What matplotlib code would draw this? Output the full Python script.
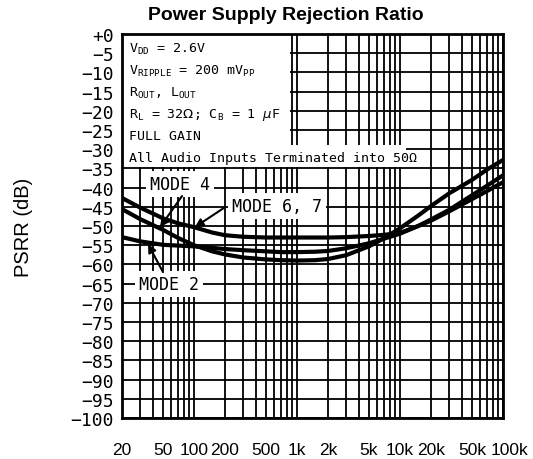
import matplotlib
matplotlib.use("Agg")
import matplotlib.pyplot as plt
from matplotlib.patches import Rectangle

# frequency (Hz) and PSRR (dB)
freqs = [20, 30, 50, 70, 100, 150, 200, 300, 500, 700, 1000, 1500, 2000, 3000,
         5000, 7000, 10000, 15000, 20000, 30000, 50000, 70000, 100000]
mode_67 = [-42.7, -45.2, -48.0, -49.3, -50.3, -51.7, -52.4, -52.8, -53.0, -53.0, -53.0,
           -53.0, -53.0, -52.9, -52.6, -52.3, -51.8, -50.0, -48.3, -45.8, -42.0, -39.5, -36.8]
mode_4 = [-45.6, -48.2, -51.0, -53.1, -55.0, -56.6, -57.4, -58.2, -58.7, -58.9, -59.0,
          -58.9, -58.6, -57.6, -55.3, -53.2, -50.6, -47.3, -44.8, -41.5, -38.0, -35.3, -32.8]
mode_2 = [-52.9, -54.0, -54.9, -55.1, -55.3, -55.7, -56.0, -56.3, -56.6, -56.8, -56.8,
          -56.7, -56.5, -55.8, -54.5, -53.3, -52.0, -50.0, -48.6, -46.2, -43.0, -40.9, -38.6]

grid_freqs = [m * 10 ** d for d in range(1, 5) for m in range(1, 10)] + [100000]
grid_freqs = [f for f in grid_freqs if f >= 20]
xtick_vals = [20, 50, 100, 200, 500, 1000, 2000, 5000, 10000, 20000, 50000, 100000]
xtick_labels = ["20", "50", "100", "200", "500", "1k", "2k", "5k", "10k", "20k", "50k", "100k"]
ytick_vals = list(range(0, -105, -5))
ytick_labels = ["+0"] + ["\u2212%d" % (-v) for v in ytick_vals[1:]]

info_lines = [r"V$\mathregular{_{DD}}$ = 2.6V",
              r"V$\mathregular{_{RIPPLE}}$ = 200 mV$\mathregular{_{PP}}$",
              r"R$\mathregular{_{OUT}}$, L$\mathregular{_{OUT}}$",
              r"R$\mathregular{_{L}}$ = 32$\Omega$; C$\mathregular{_{B}}$ = 1 $\mu$F",
              "FULL GAIN",
              "All Audio Inputs Terminated into 50\u03a9"]

mono = "DejaVu Sans Mono"

fig = plt.figure(figsize=(5.33, 4.6), dpi=100)
ax = fig.add_axes([122 / 533, 41 / 460, 381 / 533, 384 / 460])

ax.set_xscale("log")
ax.set_xlim(20, 100000)
ax.set_ylim(-100, 0)

ax.set_xticks(grid_freqs, minor=True)
ax.set_xticks(xtick_vals)
# last label sits a bit right of its tick in the reference, drawn separately
ax.set_xticklabels(xtick_labels[:-1] + [""], family="Liberation Sans", fontsize=12.5)
ax.annotate(xtick_labels[-1], xy=(xtick_vals[-1], 0), xycoords=("data", "axes fraction"),
            xytext=(4.5, -17), textcoords="offset points", ha="center", va="top",
            family="Liberation Sans", fontsize=12.5, annotation_clip=False)
ax.xaxis.set_minor_formatter(plt.NullFormatter())
ax.set_yticks(ytick_vals)
ax.set_yticklabels(ytick_labels, family=mono, fontsize=13)
ax.tick_params(which="both", length=0)
ax.tick_params(axis="x", pad=17)
ax.tick_params(axis="y", pad=6)

ax.grid(True, which="both", color="black", linewidth=1.3)
ax.set_axisbelow(True)
for s in ax.spines.values():
    s.set_linewidth(2)

# white areas hiding the grid behind the condition text
ax.add_patch(Rectangle((20, -29.0), 855 - 20, 29.0, facecolor="white",
                       edgecolor="none", zorder=2))
ax.add_patch(Rectangle((20, -34.6), 11500 - 20, 5.6, facecolor="white",
                       edgecolor="none", zorder=2))
for i, line in enumerate(info_lines):
    ax.text(0.018, 0.963 - i * 0.057, line, transform=ax.transAxes, family=mono,
            fontsize=9.5, va="center", ha="left", zorder=4)

for ys in (mode_67, mode_4, mode_2):
    ax.plot(freqs, ys, color="black", linewidth=3, zorder=3,
            solid_joinstyle="round", solid_capstyle="butt")

box = dict(facecolor="white", edgecolor="none", pad=3)
ax.text(73, -39.1, "MODE 4", family=mono, fontsize=12, ha="center", va="center",
        bbox=box, zorder=4)
ax.text(640, -44.8, "MODE 6, 7", family=mono, fontsize=12, ha="center", va="center",
        bbox=box, zorder=4)
ax.text(57, -65.1, "MODE 2", family=mono, fontsize=12, ha="center", va="center",
        bbox=box, zorder=4)

arrow = dict(arrowstyle="-|>", color="black", lw=1.5, mutation_scale=12,
             shrinkA=0, shrinkB=0)
ax.annotate("", xy=(46.8, -50.3), xytext=(76.5, -42.2), arrowprops=arrow, zorder=4)
ax.annotate("", xy=(102, -50.3), xytext=(200, -45.1), arrowprops=arrow, zorder=4)
ax.annotate("", xy=(35.8, -54.7), xytext=(50, -62), arrowprops=arrow, zorder=4)

ax.set_ylabel("PSRR (dB)", family="Liberation Sans", fontsize=14.5)
ax.yaxis.set_label_coords(-0.234, 0.5)

fig.text(286 / 533, 1 - 16 / 460, "Power Supply Rejection Ratio", family="Liberation Sans",
         fontweight="bold", fontsize=14, ha="center", va="center")

fig.savefig("out.png", dpi=100)
